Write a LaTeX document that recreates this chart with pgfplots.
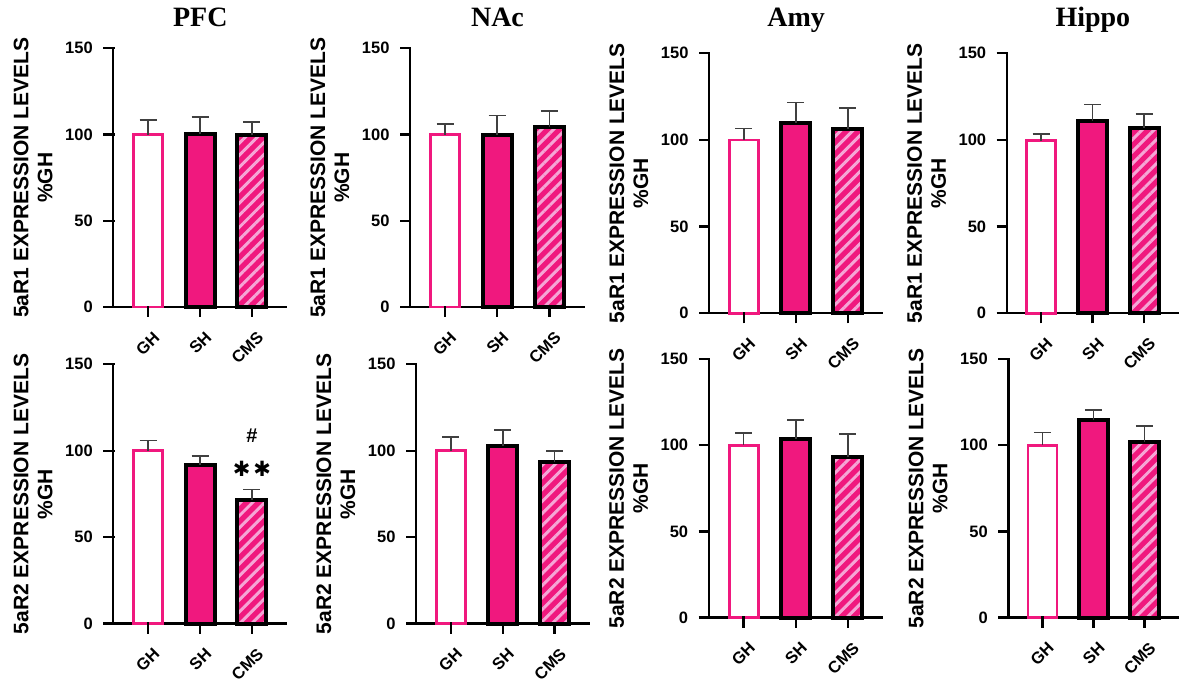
\documentclass[border=0pt]{standalone}
\usepackage{pgfplots}
\pgfplotsset{compat=1.18}
\usepackage{fontspec}
\setmainfont{Liberation Sans}
\newfontfamily\titlefont{Liberation Serif}
\newfontfamily\symfont{DejaVu Sans}
\usetikzlibrary{patterns.meta,calc}
\definecolor{hp}{HTML}{F0187E}
\definecolor{lp}{HTML}{F5A6D6}
\definecolor{eb}{HTML}{404040}

\pgfplotsset{
 panel/.style={
   scale only axis, anchor=south west, width=174pt,
   xmin=-0.67, xmax=2.68, ymin=0, ymax=150,
   axis lines=left,
   axis line style={line width=2.4pt, -},
   xtick={0,1,2}, xticklabels={GH,SH,CMS},
   ytick={0,50,100,150}, yticklabels={0,50,100,150},
   tick align=outside, major tick length=10pt,
   every tick/.style={draw=black, line width=2.4pt},
   tick label style={font=\fontsize{16.5}{18}\selectfont\bfseries},
   xticklabel style={rotate=45, anchor=north east, yshift=-9pt, xshift=-3pt},
   yticklabel style={xshift=-7pt},
   ylabel style={at={([xshift=-60.5pt]axis description cs:0,0.5)}, anchor=south, inner sep=0pt, align=center, font=\fontsize{21}{24}\selectfont\bfseries},
   title style={at={(axis description cs:0.5,1)}, anchor=base, font=\fontsize{28}{30}\selectfont\titlefont\bfseries},
   clip=false,
   error bars/y dir=plus, error bars/y explicit,
   error bars/error bar style={line width=1.6pt, eb},
   error bars/error mark options={rotate=90, mark size=8.5pt, line width=1.6pt, eb},
 },
 gh/.style={ybar, bar width=29pt, bar shift=0pt, fill=white, draw=hp, line width=2.8pt},
 sh/.style={ybar, bar width=29pt, bar shift=0pt, fill=hp, draw=black, line width=4pt},
 cms/.style={ybar, bar width=29pt, bar shift=0pt, preaction={fill=hp}, pattern={Lines[angle=45,distance=8.5pt,line width=3pt]}, pattern color=lp, draw=black, line width=4pt},
}

% outward tick marks drawn at a named axis' lines (decoration only)
\newcommand{\ticksfor}[1]{%
  \foreach \f in {0,0.33333,0.66667,1}{%
    \draw[line width=2.4pt, black, line cap=rect] ($(#1.south west)!\f!(#1.north west)$) -- ++(-9pt,0pt);}%
  \foreach \f in {0.2,0.49851,0.79701}{%
    \draw[line width=2.4pt, black, line cap=rect] ($(#1.south west)!\f!(#1.south east)$) -- ++(0pt,-9pt);}%
}

\begin{document}
\begin{tikzpicture}
\useasboundingbox (0pt,0pt) rectangle (1179pt,683pt);

% ---------- top row: 5aR1 ----------
\begin{axis}[panel, name=p1, at={(113.3pt,376pt)}, height=258.7pt,
  ylabel={5aR1 EXPRESSION LEVELS\\\%GH}, title={PFC}, title style={yshift=15.3pt}]
\addplot[gh] coordinates {(0,100) +- (0,8.4)};
\addplot[sh] coordinates {(1,100.5) +- (0,9.8)};
\addplot[cms] coordinates {(2,99.5) +- (0,7.8)};
\end{axis}

\begin{axis}[panel, name=p2, at={(410pt,376pt)}, width=175pt, height=258.7pt,
  ylabel={5aR1 EXPRESSION LEVELS\\\%GH}, title={NAc}, title style={yshift=15.3pt}]
\addplot[gh] coordinates {(0,100) +- (0,6)};
\addplot[sh] coordinates {(1,100) +- (0,11)};
\addplot[cms] coordinates {(2,104.5) +- (0,9)};
\end{axis}

\begin{axis}[panel, name=p3, at={(709pt,369.7pt)}, width=174.3pt, height=260pt,
  ylabel={5aR1 EXPRESSION LEVELS\\\%GH}, title={Amy}, title style={yshift=20.3pt}]
\addplot[gh] coordinates {(0,100) +- (0,6.5)};
\addplot[sh] coordinates {(1,110) +- (0,11.5)};
\addplot[cms] coordinates {(2,106.5) +- (0,12)};
\end{axis}

\begin{axis}[panel, name=p4, at={(1006.7pt,369.7pt)}, width=172.3pt, height=260pt,
  ylabel={5aR1 EXPRESSION LEVELS\\\%GH}, title={Hippo}, title style={yshift=20.3pt}]
\addplot[gh] coordinates {(0,99.5) +- (0,4)};
\addplot[sh] coordinates {(1,111) +- (0,9.5)};
\addplot[cms] coordinates {(2,107) +- (0,8)};
\end{axis}

% ---------- bottom row: 5aR2 ----------
\begin{axis}[panel, name=p5, at={(113.3pt,59.3pt)}, height=259.4pt,
  ylabel={5aR2 EXPRESSION LEVELS\\\%GH}]
\addplot[gh] coordinates {(0,100) +- (0,6)};
\addplot[sh] coordinates {(1,92) +- (0,5)};
\addplot[cms] coordinates {(2,71.5) +- (0,6)};
\node[font=\symfont\fontsize{21}{21}\selectfont] at (axis cs:2,89.5) {✱\hspace{3pt}✱};
\node[font=\bfseries\fontsize{20}{20}\selectfont] at (axis cs:2,109) {\#};
\end{axis}

\begin{axis}[panel, name=p6, at={(416pt,59.3pt)}, height=259.4pt,
  ylabel={5aR2 EXPRESSION LEVELS\\\%GH}]
\addplot[gh] coordinates {(0,100) +- (0,8)};
\addplot[sh] coordinates {(1,103) +- (0,9)};
\addplot[cms] coordinates {(2,93.5) +- (0,6.5)};
\end{axis}

\begin{axis}[panel, name=p7, at={(708.7pt,65.3pt)}, width=174.6pt, height=258.7pt,
  ylabel={5aR2 EXPRESSION LEVELS\\\%GH}]
\addplot[gh] coordinates {(0,100) +- (0,7)};
\addplot[sh] coordinates {(1,103.5) +- (0,11)};
\addplot[cms] coordinates {(2,93) +- (0,13.5)};
\end{axis}

\begin{axis}[panel, name=p8, at={(1008.3pt,65.3pt)}, width=170.7pt, height=258.7pt,
  ylabel={5aR2 EXPRESSION LEVELS\\\%GH}]
\addplot[gh] coordinates {(0,100) +- (0,7.3)};
\addplot[sh] coordinates {(1,114.5) +- (0,6)};
\addplot[cms] coordinates {(2,102) +- (0,9)};
\end{axis}

\ticksfor{p1}\ticksfor{p2}\ticksfor{p3}\ticksfor{p4}
\ticksfor{p5}\ticksfor{p6}\ticksfor{p7}\ticksfor{p8}

\end{tikzpicture}
\end{document}
